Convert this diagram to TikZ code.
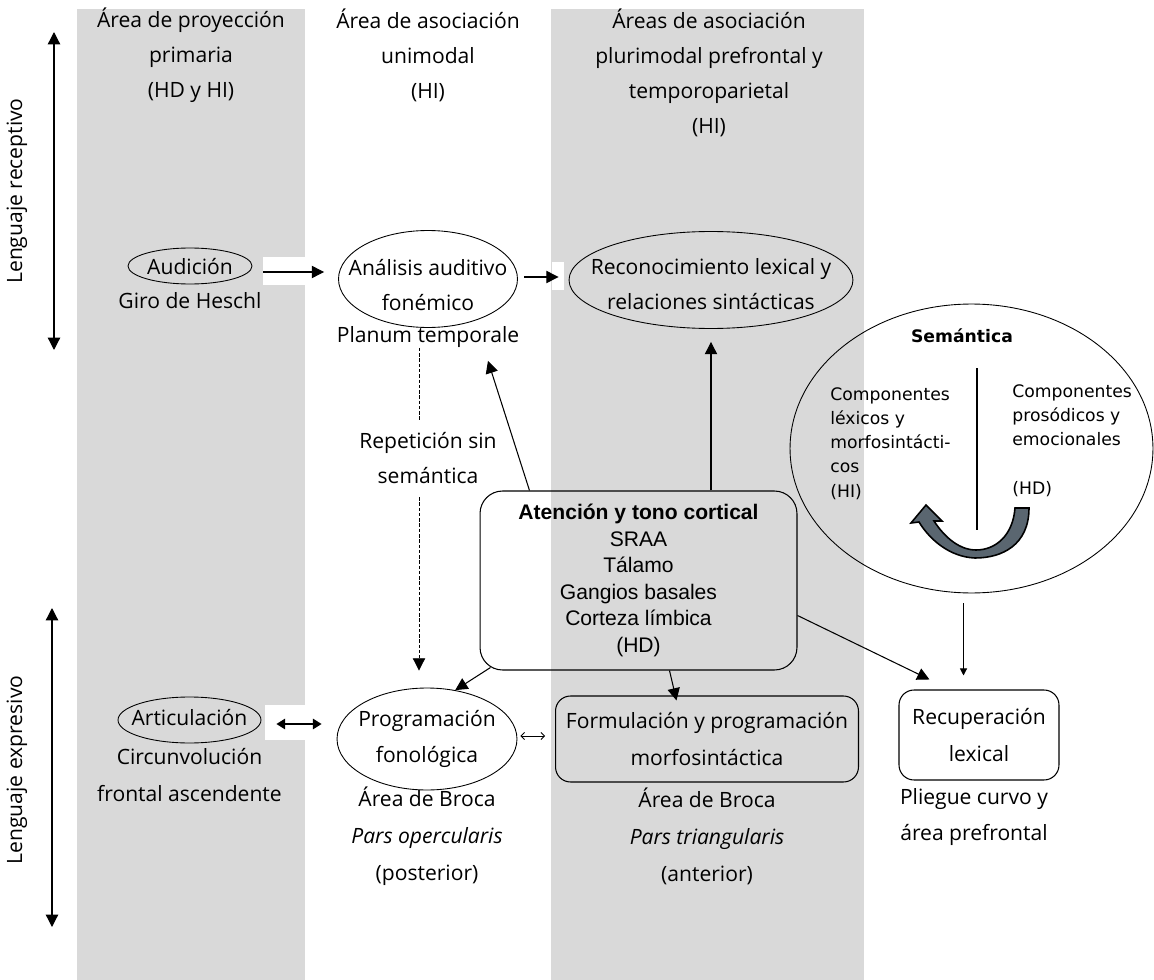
\documentclass[tikz,border=0pt]{standalone}
\usepackage{fontspec}
\setmainfont{Open Sans}
\newfontfamily\arialfam{Liberation Sans}
\newfontfamily\verdfam{DejaVu Sans}
\usetikzlibrary{shapes.geometric,arrows.meta,positioning}
\definecolor{zonagris}{HTML}{D9D9D9}
\definecolor{flechagris}{RGB}{90,102,112}

\begin{document}
\begin{tikzpicture}[x=0.02cm, y=-0.02cm, >={Triangle[length=7pt,width=7pt]},
		font=\fontsize{12}{20}\selectfont,
		zona/.style={fill=zonagris, draw=none},
		oval/.style={ellipse, draw, line width=0.5pt, inner sep=0pt},
		caja/.style={draw, line width=0.6pt, align=center, font=\fontsize{12}{21}\selectfont},
		txt/.style={align=center, inner sep=0pt},
		txtb/.style={align=center, inner sep=0pt, font=\fontsize{12}{21}\selectfont},
		flecha/.style={->, line width=0.6pt},
		punteada/.style={dash pattern=on 2pt off 1pt, line width=0.5pt},
		semtxt/.style={align=left, inner sep=0pt, font=\verdfam\fontsize{9.8}{13.8}\selectfont}]
		\useasboundingbox (0,0) rectangle (1154,980);
		% columnas grises y fondos blancos de las flechas
		\foreach \xa/\xb in {77/305, 551/864}
			\fill[zona] (\xa,9) rectangle (\xb,980);
		\foreach \xa/\ya/\xb/\yb in {263/257/305/285, 552/262/564/290, 265/705/306/740}
			\fill[white] (\xa,\ya) rectangle (\xb,\yb);
		% encabezados
		\node[txt] (col1) at (191,55) {Área de proyección\\primaria\\(HD y HI)};
		\node[txt] (col2) at (428,55) {Área de asociación\\unimodal\\(HI)};
		\node[txt] (col3) at (709,73) {Áreas de asociación\\plurimodal prefrontal y\\temporoparietal\\(HI)};
		% lenguaje receptivo / expresivo
		\coordinate (recA) at (54,32); \coordinate (recB) at (54,350);
		\coordinate (expA) at (52,608); \coordinate (expB) at (52,927);
		\draw[<->, line width=0.7pt] (recA) -- (recB);
		\draw[<->, line width=0.7pt] (expA) -- (expB);
		\node[rotate=90, inner sep=0pt] (lrec) at (17,191) {Lenguaje receptivo};
		\node[rotate=90, inner sep=0pt] (lexp) at (17,770) {Lenguaje expresivo};
		% fila receptiva
		\node[oval, minimum width=2.48cm, minimum height=0.72cm] (aud) at (190,266) {};
		\node[txt] (audtxt) at (190,267) {Audición};
		\node[txt] (audlbl) at (190,301) {Giro de Heschl};
		\node[oval, minimum width=3.58cm, minimum height=1.94cm] (ana) at (428,279) {};
		\node[txt] (anatxt) at (428,285) {Análisis auditivo\\fonémico};
		\node[txt] (analbl) at (428,337) {Planum temporale};
		\node[oval, minimum width=5.68cm, minimum height=1.94cm] (rec) at (711,280) {};
		\node[txt] (rectxt) at (711,284) {Reconocimiento lexical y\\relaciones sintácticas};
		\draw[flecha, shorten <=0.22cm, shorten >=0.28cm] ([yshift=-0.12cm]aud.east) -- ([yshift=-0.12cm]aud.east -| ana.west);
		\draw[flecha, shorten <=0.13cm, shorten >=0.2cm] ([yshift=0.04cm]ana.east) -- ([yshift=0.04cm]ana.east -| rec.west);
		% repeticion
		\node[txt] (rep) at (428,458) {Repetición sin\\semántica};
		\draw[punteada, shorten >=0.24cm] ([xshift=-0.18cm]rep.north |- analbl.south) -- ([xshift=-0.18cm]rep.north);
		% atencion
		\node[caja, rounded corners=0.45cm, minimum width=6.34cm, minimum height=3.58cm,
			font=\arialfam\fontsize{12}{15.1}\selectfont] (aten) at (638.5,580.5)
			{\textbf{Atención y tono cortical}\\SRAA\\Tálamo\\Gangios basales\\Corteza límbica\\(HD)};
		% semantica
		\node[oval, minimum width=7.26cm, minimum height=5.78cm] (sem) at (971.5,448.5) {};
		\node[inner sep=0pt, font=\verdfam\bfseries\fontsize{9.8}{13.8}\selectfont] (semtit) at (962,336) {Semántica};
		\coordinate (divA) at (977,368); \coordinate (divB) at (977,530);
		\draw[line width=0.6pt] (divA) -- (divB);
		\node[semtxt, anchor=north west] (semizq) at (830,387) {Componentes\\léxicos y\\morfosintácti-\\cos\\(HI)};
		\node[semtxt, anchor=north west] (semder) at (1012,384) {Componentes\\prosódicos y\\emocionales\\[13.8pt](HD)};
		\filldraw[fill=flechagris, draw=black, line width=0.9pt] (1015,508) -- (1029,508)
			.. controls (1029,545) and (1002,558) .. (975,558)
			.. controls (950,557) and (930,540) .. (919,522) -- (911,523) -- (926,505) -- (942,521) -- (934,521)
			.. controls (945,538) and (960,550) .. (976,550)
			.. controls (996,550) and (1013,535) .. (1015,508) -- cycle;
		% fila expresiva
		\node[oval, minimum width=2.86cm, minimum height=0.92cm] (art) at (189.5,720) {};
		\node[txt] (arttxt) at (189.5,718) {Articulación};
		\node[txtb] (artlbl) at (189.5,775) {Circunvolución\\frontal ascendente};
		\node[oval, minimum width=3.6cm, minimum height=2.04cm] (prog) at (427,739) {};
		\node[txtb] (progtxt) at (427,739) {Programación\\fonológica};
		\node[txtb] (proglbl) at (427,836) {Área de Broca\\\textit{Pars opercularis}\\(posterior)};
		\node[caja, rounded corners=0.3cm, minimum width=6.06cm, minimum height=1.72cm] (form) at (707,739) {Formulación y programación\\morfosintáctica};
		\node[txtb] (formlbl) at (707,836) {Área de Broca\\\textit{Pars triangularis}\\(anterior)};
		\node[caja, rounded corners=0.3cm, minimum width=3.2cm, minimum height=1.8cm] (recu) at (979,735) {Recuperación\\lexical};
		\node[txtb] (reculbl) at (974,817) {Pliegue curvo y\\área prefrontal};
		% conexiones
		\draw[flecha, punteada, shorten <=0.26cm, shorten >=0.34cm] ([xshift=-0.18cm]rep.south) -- ([xshift=-0.18cm]rep.south |- prog.north);
		\draw[flecha] ([xshift=1cm]aten.north west) -- ([xshift=1.2cm,yshift=-0.26cm]analbl.south);
		\draw[flecha] (rec.south |- aten.north) -- ([yshift=-0.26cm]rec.south);
		\draw[flecha] ([xshift=0.22cm,yshift=0.06cm]aten.south west) -- (prog.60);
		\draw[flecha] ([xshift=0.62cm]aten.south) -- ([xshift=-0.61cm,yshift=-0.1cm]form.north);
		\draw[flecha] ([yshift=-0.7cm]aten.east) -- ([xshift=0.62cm,yshift=0.2cm]recu.north west);
		\draw[->, >={Triangle[length=4pt,width=4pt]}, line width=0.6pt, shorten <=0.2cm, shorten >=0.28cm] ([xshift=-0.16cm]sem.south) -- ([xshift=-0.16cm]sem.south |- recu.north);
		\draw[{Triangle[length=5pt,width=6pt]}-{Triangle[length=5pt,width=6pt]}, line width=0.9pt, shorten <=0.3cm, shorten >=0.3cm] ([yshift=-0.08cm]art.east) -- ([yshift=-0.08cm]art.east -| prog.west);
		\draw[{Straight Barb[length=2pt]}-{Straight Barb[length=2pt]}, line width=0.5pt, shorten <=0.06cm, shorten >=0.2cm] ([yshift=0.06cm]form.west -| prog.east) -- ([yshift=0.06cm]form.west);
	\end{tikzpicture}
\end{document}
